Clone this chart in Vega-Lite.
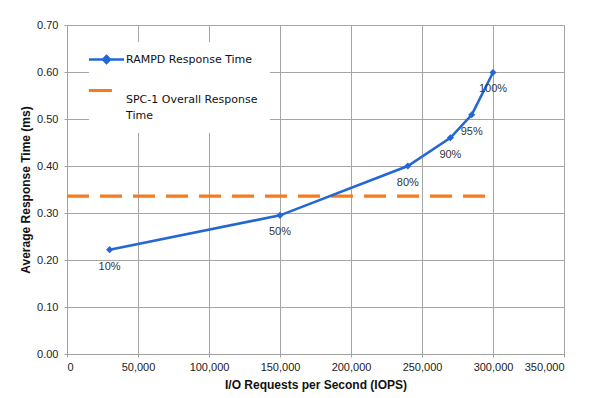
{
  "$schema": "https://vega.github.io/schema/vega-lite/v6.json",
  "width": 497,
  "height": 329,
  "autosize": {"type": "none"},
  "padding": {"left": 67, "top": 25, "right": 36, "bottom": 44},
  "background": "white",
  "config": {
    "view": {"stroke": "#a5a5a5", "strokeWidth": 1}
  },
  "data": {
    "values": [
      {"series": "RAMPD Response Time", "iops": 30000, "ms": 0.222, "label": "10%"},
      {"series": "RAMPD Response Time", "iops": 150000, "ms": 0.295, "label": "50%"},
      {"series": "RAMPD Response Time", "iops": 240000, "ms": 0.400, "label": "80%"},
      {"series": "RAMPD Response Time", "iops": 270000, "ms": 0.460, "label": "90%"},
      {"series": "RAMPD Response Time", "iops": 285000, "ms": 0.509, "label": "95%"},
      {"series": "RAMPD Response Time", "iops": 300000, "ms": 0.599, "label": "100%"},
      {"series": "SPC-1 Overall Response Time", "iops": 0, "ms": 0.336, "label": ""},
      {"series": "SPC-1 Overall Response Time", "iops": 300000, "ms": 0.336, "label": ""}
    ]
  },
  "encoding": {
    "x": {
      "field": "iops", "type": "quantitative",
      "scale": {"domain": [0, 350000], "nice": false},
      "axis": {
        "grid": true, "gridColor": "#a5a5a5", "gridWidth": 1, "gridOpacity": 1,
        "values": [0, 50000, 100000, 150000, 200000, 250000, 300000, 350000],
        "format": ",d", "title": "I/O Requests per Second (IOPS)",
        "labelFont": "Liberation Sans", "labelFontSize": 11, "labelColor": "#222222",
        "titleFont": "Liberation Sans", "titleFontSize": 12, "titleFontWeight": "bold", "titleColor": "#111111",
        "domainColor": "#a0a0a0", "tickColor": "#a0a0a0", "tickSize": 3,
        "labelPadding": 4, "titlePadding": 7
      }
    },
    "y": {
      "field": "ms", "type": "quantitative",
      "scale": {"domain": [0, 0.7], "nice": false},
      "axis": {
        "grid": true, "gridColor": "#a5a5a5", "gridWidth": 1, "gridOpacity": 1,
        "values": [0, 0.1, 0.2, 0.3, 0.4, 0.5, 0.6, 0.7],
        "format": ".2f", "title": "Average Response Time (ms)",
        "labelFont": "Liberation Sans", "labelFontSize": 11, "labelColor": "#222222",
        "titleFont": "Liberation Sans", "titleFontSize": 12, "titleFontWeight": "bold", "titleColor": "#111111",
        "domainColor": "#a0a0a0", "tickColor": "#a0a0a0", "tickSize": 3,
        "labelPadding": 6, "titlePadding": 4
      }
    }
  },
  "layer": [
    {
      "transform": [{"filter": "datum.series == 'SPC-1 Overall Response Time'"}],
      "mark": {"type": "line", "strokeWidth": 3.2, "strokeDash": [22, 11], "strokeCap": "butt"},
      "encoding": {
        "color": {
          "field": "series", "type": "nominal",
          "scale": {"domain": ["RAMPD Response Time", "SPC-1 Overall Response Time"], "range": ["#2467d4", "#f77b1c"]},
          "legend": {
            "title": null,
            "orient": "none",
            "legendX": 22,
            "legendY": 17,
            "zindex": 1,
            "direction": "vertical",
            "fillColor": "white",
            "padding": 12,
            "symbolSize": 1225,
            "rowPadding": 16,
            "labelOffset": 14,
            "labelFont": "DejaVu Sans",
            "labelFontSize": 11,
            "labelColor": "#111111",
            "labelLimit": 300,
            "labelExpr": "datum.label == 'SPC-1 Overall Response Time' ? ['SPC-1 Overall Response', 'Time'] : datum.label",
            "encode": {
              "symbols": {
                "update": {
                  "shape": {"signal": "datum.value == 'RAMPD Response Time' ? 'M-1,0H1M0,-0.2L0.2,0L0,0.2L-0.2,0Z' : 'M-1,0H0.31'"},
                  "fill": {"signal": "datum.value == 'RAMPD Response Time' ? '#2467d4' : 'transparent'"},
                  "strokeWidth": {"signal": "datum.value == 'RAMPD Response Time' ? 2.5 : 3"},
                  "strokeDash": {"value": []},
                  "opacity": {"value": 1}
                }
              },
              "labels": {
                "update": {
                  "lineHeight": {"value": 16},
                  "dy": {"signal": "datum.value == 'RAMPD Response Time' ? 0 : 9"}
                }
              }
            }
          }
        }
      }
    },
    {
      "transform": [{"filter": "datum.series == 'RAMPD Response Time'"}],
      "mark": {"type": "line", "strokeWidth": 2.6, "point": {"filled": true, "shape": "diamond", "size": 50, "opacity": 1}},
      "encoding": {
        "color": {"field": "series", "type": "nominal"}
      }
    },
    {
      "transform": [{"filter": "datum.series == 'RAMPD Response Time'"}],
      "mark": {"type": "text", "dy": 17, "font": "Liberation Sans", "fontSize": 11, "color": "#333333"},
      "encoding": {
        "text": {"field": "label"}
      }
    }
  ]
}
